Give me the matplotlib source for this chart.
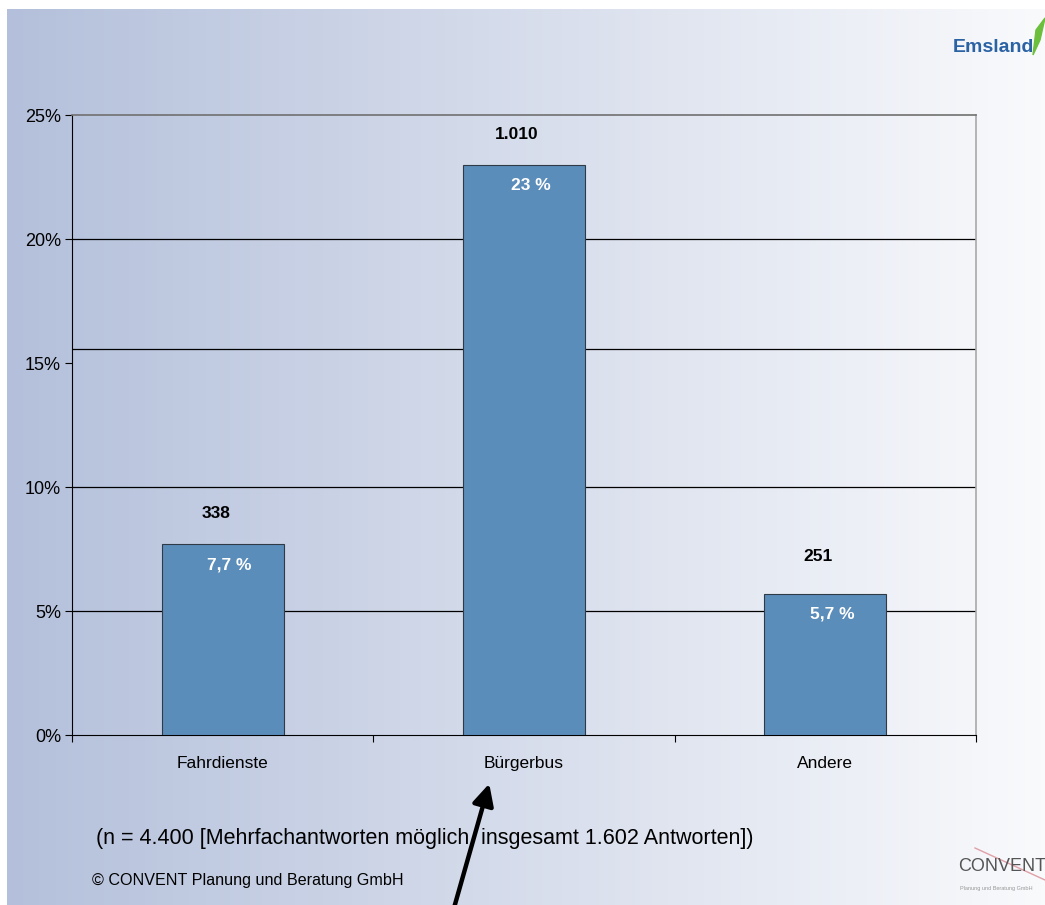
import matplotlib.pyplot as plt
import numpy as np

plt.rcParams['font.family'] = ['Liberation Sans', 'DejaVu Sans']

categories = ['Fahrdienste', 'Bürgerbus', 'Andere']
shares = [7.7, 23.0, 5.7]
counts = ['338', '1.010', '251']
share_labels = ['7,7 %', '23 %', '5,7 %']
y_ticks = [0, 5, 10, 15, 20, 25]
grid_lines = [5, 10, 15.56, 20]

fig = plt.figure(figsize=(10.45, 9.05), dpi=100)

# slide background: blue-grey fading to white from left to right
bg = fig.add_axes([7 / 1045, 0, 1 - 7 / 1045, 1 - 9 / 905], zorder=-10)
grad = np.linspace(0, 1, 256)[None, :]
c0 = np.array([180, 192, 219]) / 255
c1 = np.array([249, 250, 252]) / 255
img = c0[None, None, :] * (1 - grad[..., None]) + c1[None, None, :] * grad[..., None]
bg.imshow(img, aspect='auto', extent=[0, 1, 0, 1])
bg.axis('off')

ax = fig.add_axes([72 / 1045, 1 - 735 / 905, (976 - 72) / 1045, (735 - 115) / 905])
ax.patch.set_alpha(0)

x = np.arange(len(categories))
bars = ax.bar(x, shares, width=0.405, color='#5b8dba', edgecolor='#2e3a46',
              linewidth=0.8, zorder=3)

for g in grid_lines:
    ax.axhline(g, color='black', linewidth=0.9, zorder=1)

for i, (rect, c, s) in enumerate(zip(bars, counts, share_labels)):
    cx = rect.get_x() + rect.get_width() / 2
    top = rect.get_height()
    lift = 27 if i == 2 else 22
    ax.annotate(c, (cx, top), xytext=(-5, lift), textcoords='offset points',
                ha='center', va='center', fontsize=12.5, fontweight='bold')
    ax.annotate(s, (cx, top), xytext=(5, -15), textcoords='offset points',
                ha='center', va='center', fontsize=12.5, fontweight='bold',
                color='white', zorder=4)

ax.set_xlim(-0.5, len(categories) - 0.5)
ax.set_ylim(0, 25)
ax.set_yticks(y_ticks)
ax.set_yticklabels([f'{v}%' for v in y_ticks], fontsize=13)
ax.tick_params(axis='y', length=5, width=0.8, pad=3)

ax.set_xticks(x)
ax.set_xticklabels(categories, fontsize=12.5)
ax.tick_params(axis='x', length=0, pad=15)
ax.set_xticks(np.arange(-0.5, len(categories)), minor=True)
ax.tick_params(axis='x', which='minor', length=5, width=0.8)

ax.spines['left'].set_color('black')
ax.spines['bottom'].set_color('black')
ax.spines['top'].set_color('#707070')
ax.spines['top'].set_linewidth(1.2)
ax.spines['right'].set_color('#a8a8a8')
ax.spines['right'].set_linewidth(1.2)

fig.text(96 / 1045, 1 - 838 / 905,
         '(n = 4.400 [Mehrfachantworten möglich, insgesamt 1.602 Antworten])',
         fontsize=15.5, va='center', ha='left')
fig.text(92 / 1045, 1 - 880 / 905, '© CONVENT Planung und Beratung GmbH',
         fontsize=11.6, va='center', ha='left')

# logos
fig.text(953 / 1045, 1 - 48 / 905, 'Emsland', fontsize=14, color='#2a62a4',
         fontweight='bold', va='center', ha='left')
fig.patches.append(plt.Polygon([[1033 / 1045, 1 - 55 / 905], [1036 / 1045, 1 - 30 / 905],
                                [1045 / 1045, 1 - 18 / 905], [1040 / 1045, 1 - 40 / 905]],
                               closed=True, transform=fig.transFigure,
                               color='#6cbf3c', zorder=5))
fig.text(958 / 1045, 1 - 866 / 905, 'CONVENT', fontsize=13, color='#555555',
         va='center', ha='left')
fig.text(960 / 1045, 1 - 888 / 905, 'Planung und Beratung GmbH', fontsize=4,
         color='#999999', va='center', ha='left')
fig.lines.append(plt.Line2D([975 / 1045, 1045 / 1045], [1 - 848 / 905, 1 - 880 / 905],
                            transform=fig.transFigure, color='#e0a0a8', linewidth=1))

# arrow pointing at the Bürgerbus label
fig.patches.append(plt.matplotlib.patches.FancyArrowPatch(
    (452 / 1045, 1 - 915 / 905), (490 / 1045, 1 - 781 / 905),
    transform=fig.transFigure, arrowstyle='-|>,head_length=8,head_width=4',
    mutation_scale=1.6, color='black', linewidth=3.2))

fig.savefig('out.png', dpi=100)
